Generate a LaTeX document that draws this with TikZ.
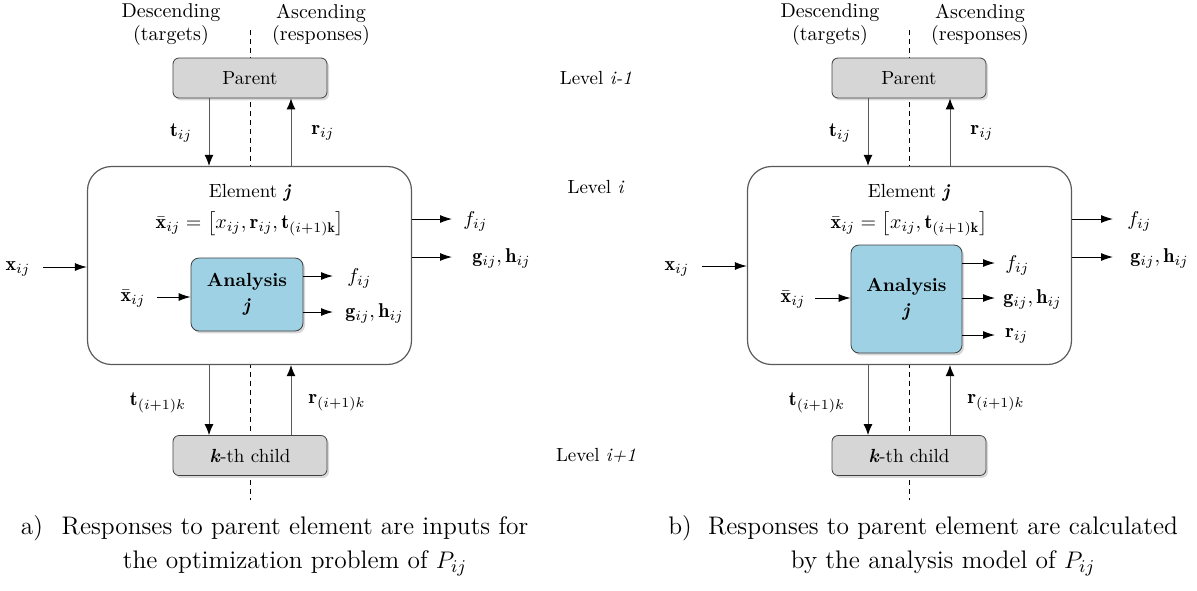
\documentclass[tikz,border=0pt]{standalone}
\usepackage{amsmath}
\usepackage{fontspec}
\usetikzlibrary{arrows.meta,shadows}
\definecolor{boxgray}{HTML}{D6D6D6}
\definecolor{anblue}{HTML}{9DD1E3}
\definecolor{edgec}{HTML}{404040}
\definecolor{lgray}{HTML}{5A5A5A}
\begin{document}
\begin{tikzpicture}[x=0.5pt,y=-0.5pt,
  hbox/.style={draw=edgec, fill=boxgray, rounded corners=3pt, minimum width=77pt, minimum height=20pt, inner sep=0pt,
    font=\fontsize{9.5}{11}\selectfont, drop shadow={opacity=0.3, shadow xshift=1pt, shadow yshift=-1.2pt}},
  elembox/.style={draw=lgray, fill=white, line width=0.6pt, rounded corners=12pt, minimum width=162pt, minimum height=99pt, inner sep=0pt},
  anbox/.style={draw=edgec, fill=anblue, rounded corners=4pt, inner sep=0pt, align=center,
    font=\fontsize{9.5}{12.5}\selectfont\bfseries, drop shadow={opacity=0.3, shadow xshift=1pt, shadow yshift=-1.2pt}},
  lab/.style={font=\fontsize{10}{12}\selectfont, inner sep=0pt},
  hdr/.style={font=\fontsize{10}{12}\selectfont, inner sep=0pt},
  lvl/.style={font=\fontsize{9.5}{12}\selectfont, inner sep=0pt},
  captxt/.style={font=\fontsize{12.7}{15}\selectfont, inner sep=0pt},
  vline/.style={draw=lgray, line width=0.5pt, -{Latex[length=5.5pt,width=4.5pt,color=black]}},
  harrow/.style={draw=black, line width=0.5pt, -{Latex[length=6pt,width=4pt]}},
  divline/.style={draw=black, line width=0.4pt, dash pattern=on 2.5pt off 2pt}
]
\useasboundingbox (0,0) rectangle (1197,590);

% ================= LEFT (a) =================
\coordinate (dLt) at (250,30);
\coordinate (dLb) at (250,500);
\draw[divline] (dLt) -- (dLb);

\node[hdr] (descL) at (171,13) {Descending};
\node[hdr] (targL) at (171,35) {(targets)};
\node[hdr] (ascL) at (321,13) {Ascending};
\node[hdr] (respL) at (321,35) {(responses)};

\node[hbox] (pa) at (250,78) {Parent};
\node[elembox] (ea) at (249.5,265.5) {};
\node[anbox, minimum width=56pt, minimum height=36.5pt] (an) at (247,294.5) {Analysis\\ \textit{j}};
\node[hbox] (ca) at (250,455.5) {\textbf{\textit{k}}-th child};

\node[lab, font=\fontsize{9.5}{11}\selectfont] (elA) at (250,193) {Element \textbf{\textit{j}}};
\node[lab] (fmA) at (250,224) {$\bar{\mathbf{x}}_{ij}=\bigl[x_{ij},\mathbf{r}_{ij},\mathbf{t}_{(i+1)\mathbf{k}}\bigr]$};

\coordinate (tA) at (209,0);
\coordinate (rA) at (291,0);
\draw[vline] (tA |- pa.south) -- (tA |- ea.north);
\draw[vline] (rA |- ea.north) -- (rA |- pa.south);
\draw[vline] (tA |- ea.south) -- (tA |- ca.north);
\draw[vline] (rA |- ca.north) -- (rA |- ea.south);
\node[lab] (tlA) at (181,133) {$\mathbf{t}_{ij}$};
\node[lab] (rlA) at (323,133) {$\mathbf{r}_{ij}$};
\node[lab] (tkA) at (158,403) {$\mathbf{t}_{(i+1)k}$};
\node[lab] (rkA) at (337,403) {$\mathbf{r}_{(i+1)k}$};

\node[lab] (xlA) at (18,269) {$\mathbf{x}_{ij}$};
\coordinate (xaA) at (43,267);
\draw[harrow] (xaA) -- (xaA -| ea.west);
\node[lab] (xbA) at (133,299) {$\bar{\mathbf{x}}_{ij}$};
\coordinate (xbaA) at (157,297);
\draw[harrow] (xbaA) -- (xbaA -| an.west);

\coordinate (faA) at (333,276);
\coordinate (gaA) at (333,312);
\draw[harrow] (faA -| an.east) -- (faA);
\draw[harrow] (gaA -| an.east) -- (gaA);
\node[lab, anchor=west] (flA) at (347,278) {$f_{ij}$};
\node[lab, anchor=west] (glA) at (345,313) {$\mathbf{g}_{ij},\mathbf{h}_{ij}$};

\coordinate (feA) at (452,219);
\coordinate (geA) at (452,257);
\draw[harrow] (feA -| ea.east) -- (feA);
\draw[harrow] (geA -| ea.east) -- (geA);
\node[lab, anchor=west] (fleA) at (463,221) {$f_{ij}$};
\node[lab, anchor=west] (gleA) at (472,258) {$\mathbf{g}_{ij},\mathbf{h}_{ij}$};

% ================= LEVELS =================
\node[lvl] (lv1) at (596,78) {Level \textit{i-1}};
\node[lvl] (lv2) at (596,187) {Level \textit{i}};
\node[lvl] (lv3) at (596,455) {Level \textit{i+1}};

% ================= RIGHT (b) =================
\coordinate (dRt) at (909,30);
\coordinate (dRb) at (909,500);
\draw[divline] (dRt) -- (dRb);

\node[hdr] (descR) at (830,13) {Descending};
\node[hdr] (targR) at (830,35) {(targets)};
\node[hdr] (ascR) at (980,13) {Ascending};
\node[hdr] (respR) at (980,35) {(responses)};

\node[hbox] (pb) at (909,78) {Parent};
\node[elembox] (eb) at (909.5,265.5) {};
\node[anbox, minimum width=55.5pt, minimum height=54pt] (bn) at (906.5,299) {Analysis\\ \textit{j}};
\node[hbox] (cb) at (909,455.5) {\textbf{\textit{k}}-th child};

\node[lab, font=\fontsize{9.5}{11}\selectfont] (elB) at (909,193) {Element \textbf{\textit{j}}};
\node[lab] (fmB) at (909,224) {$\bar{\mathbf{x}}_{ij}=\bigl[x_{ij},\mathbf{t}_{(i+1)\mathbf{k}}\bigr]$};

\coordinate (tB) at (868,0);
\coordinate (rB) at (950,0);
\draw[vline] (tB |- pb.south) -- (tB |- eb.north);
\draw[vline] (rB |- eb.north) -- (rB |- pb.south);
\draw[vline] (tB |- eb.south) -- (tB |- cb.north);
\draw[vline] (rB |- cb.north) -- (rB |- eb.south);
\node[lab] (tlB) at (840,133) {$\mathbf{t}_{ij}$};
\node[lab] (rlB) at (982,133) {$\mathbf{r}_{ij}$};
\node[lab] (tkB) at (817,403) {$\mathbf{t}_{(i+1)k}$};
\node[lab] (rkB) at (996,403) {$\mathbf{r}_{(i+1)k}$};

\node[lab] (xlB) at (677,269) {$\mathbf{x}_{ij}$};
\coordinate (xaB) at (702,266);
\draw[harrow] (xaB) -- (xaB -| eb.west);
\node[lab] (xbB) at (793,300) {$\bar{\mathbf{x}}_{ij}$};
\coordinate (xbaB) at (815,298);
\draw[harrow] (xbaB) -- (xbaB -| bn.west);

\coordinate (faB) at (995,263);
\coordinate (gaB) at (995,298);
\coordinate (raB) at (995,335);
\draw[harrow] (faB -| bn.east) -- (faB);
\draw[harrow] (gaB -| bn.east) -- (gaB);
\draw[harrow] (raB -| bn.east) -- (raB);
\node[lab, anchor=west] (flB) at (1005,265) {$f_{ij}$};
\node[lab, anchor=west] (glB) at (1003,299) {$\mathbf{g}_{ij},\mathbf{h}_{ij}$};
\node[lab, anchor=west] (rlB2) at (1005,336) {$\mathbf{r}_{ij}$};

\coordinate (feB) at (1113,219);
\coordinate (geB) at (1113,257);
\draw[harrow] (feB -| eb.east) -- (feB);
\draw[harrow] (geB -| eb.east) -- (geB);
\node[lab, anchor=west] (fleB) at (1127,221) {$f_{ij}$};
\node[lab, anchor=west] (gleB) at (1130,258) {$\mathbf{g}_{ij},\mathbf{h}_{ij}$};

% ================= CAPTIONS =================
\node[captxt] (capA0) at (32,528) {a)};
\node[captxt] (capA1) at (295,528) {Responses to parent element are inputs for};
\node[captxt] (capA2) at (295,563) {the optimization problem of $P_{ij}$};
\node[captxt] (capB0) at (680,528) {b)};
\node[captxt] (capB1) at (943,528) {Responses to parent element are calculated};
\node[captxt] (capB2) at (943,563) {by the analysis model of $P_{ij}$};
\end{tikzpicture}
\end{document}
